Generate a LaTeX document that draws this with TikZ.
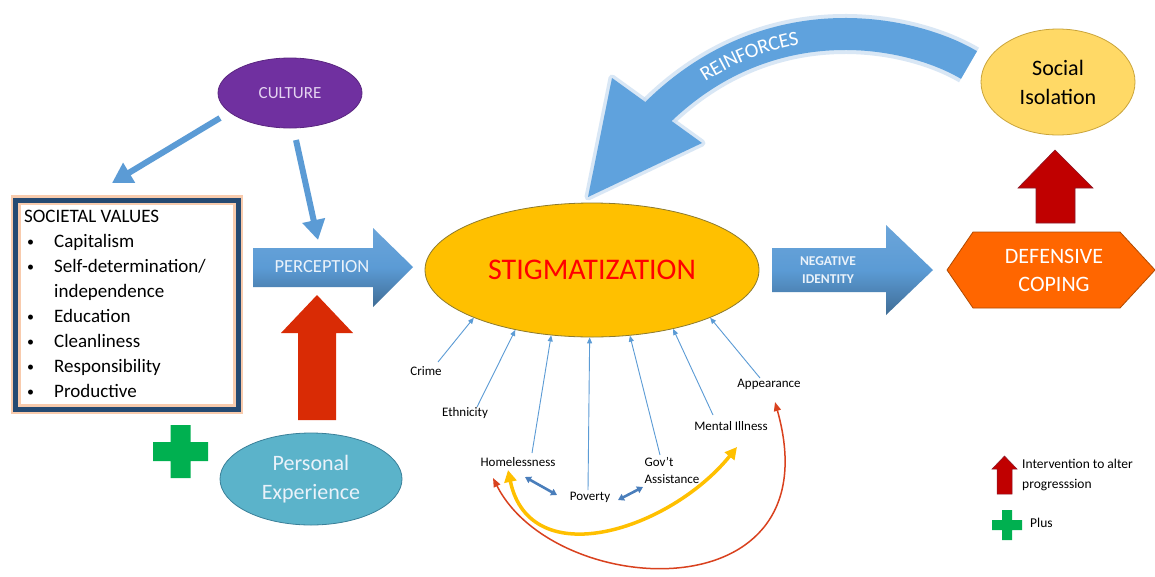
\documentclass[tikz,border=0pt]{standalone}
\usepackage{fontspec}
\setmainfont{Carlito}
\usetikzlibrary{arrows.meta,calc,shapes.geometric,decorations.text}
\definecolor{arrblue}{HTML}{5B9BD5}
\definecolor{bandblue}{HTML}{5FA2DD}
\definecolor{glowblue}{HTML}{C9DDF2}
\definecolor{dblblue}{HTML}{4A7EBB}
\definecolor{stigyellow}{HTML}{FFC000}
\definecolor{stigedge}{HTML}{8C7A2E}
\definecolor{purp}{HTML}{7030A0}
\definecolor{purpedge}{HTML}{5A2680}
\definecolor{lav}{HTML}{E4D4F0}
\definecolor{tealfill}{HTML}{5BB3CA}
\definecolor{tealedge}{HTML}{3A8099}
\definecolor{orangeD}{HTML}{FF6600}
\definecolor{orangeEdge}{HTML}{B04A00}
\definecolor{socyellow}{HTML}{FFD966}
\definecolor{socedge}{HTML}{C9A43A}
\definecolor{redA}{HTML}{D92B05}
\definecolor{redB}{HTML}{C00000}
\definecolor{redBedge}{HTML}{8B1A2A}
\definecolor{plusgreen}{HTML}{00B050}
\definecolor{navyb}{HTML}{254A72}
\definecolor{orglow}{HTML}{F8CBAD}
\definecolor{curvered}{HTML}{D9411E}
\definecolor{lighttxt}{HTML}{EAF2FA}
\newcommand{\smbul}{\hspace{3pt}\raisebox{1.5pt}{\fontsize{14}{25}\selectfont\textbullet}}
\begin{document}
\begin{tikzpicture}[x=1pt,y=-1pt,
  lbl/.style={font=\fontsize{13}{17}\selectfont, inner sep=1pt, text=black},
  thinarr/.style={draw=arrblue, line width=0.9pt, -{Triangle[length=6pt,width=5pt]}},
  bigblue/.style={draw=arrblue, line width=6pt, -{Triangle[length=20pt,width=22pt]}},
  dblarr/.style={draw=dblblue, line width=2.6pt, {Triangle[length=6pt,width=7pt]}-{Triangle[length=6pt,width=7pt]}},
  blockblue/.style={draw=none, top color=arrblue!90!white, bottom color=arrblue!70!black, middle color=arrblue},
  ellnode/.style={ellipse, inner sep=0pt, line width=0.8pt, align=center},
]
\useasboundingbox[fill=white] (0,0) rectangle (1155,576);

% ---------- REINFORCES band arrow ----------
\draw[glowblue, line width=40pt, opacity=0.7] (969,65) .. controls (910,30) and (765,0) .. (650,120);
\draw[glowblue, line width=7pt, line join=round, opacity=0.7, fill=glowblue] (588,197) -- (612,78) -- (702,143) -- cycle;
\draw[bandblue, line width=32pt] (969,65) .. controls (910,30) and (765,0) .. (650,120);
\fill[bandblue] (588,197) -- (612,78) -- (702,143) -- cycle;
\path[decorate, decoration={text along path, text format delimiters={|}{|},
  text={|\fontsize{20.5}{22}\selectfont\color{white}|REINFORCES},
  text align={left indent=68pt}, raise=-6.5pt}]
  (650,120) .. controls (765,0) and (910,30) .. (969,65);

% ---------- CULTURE ----------
\node[ellnode, minimum width=144pt, minimum height=70pt, fill=purp, draw=purpedge, text=lav,
  font=\fontsize{17}{20}\selectfont] (culture) at (290,93) {CULTURE};

% ---------- Societal values ----------
\node[draw=navyb, line width=5pt, minimum width=222.5pt, minimum height=209pt, inner sep=0pt,
  preaction={draw=orglow, line width=10pt}] (vals) at (126.75,304.5) {};
\node[anchor=north west, inner sep=0pt, font=\fontsize{19}{25}\selectfont] (valstxt) at (24,205)
{\begin{tabular}{@{}p{30pt}@{}l@{}}
\multicolumn{2}{@{}l@{}}{SOCIETAL VALUES}\\
\smbul & Capitalism\\
\smbul & Self-determination/\\
 & independence\\
\smbul & Education\\
\smbul & Cleanliness\\
\smbul & Responsibility\\
\smbul & Productive
\end{tabular}};

% ---------- PERCEPTION block arrow ----------
\shade[blockblue] (253,248) -- (373,248) -- (373,228) -- (413,267) -- (373,307) -- (373,287) -- (253,287) -- cycle;
\node[text=lighttxt, font=\fontsize{18.5}{20}\selectfont] (perc) at (322,267) {PERCEPTION};

% culture arrows
\draw[bigblue] ($(culture)+(-70,25)$) -- ($(vals)+(-14.75,-121.5)$);
\draw[bigblue] ($(culture)+(6,47)$) -- ($(perc)+(-4,-27)$);

% ---------- Personal experience ----------
\node[ellnode, minimum width=182pt, minimum height=92pt, fill=tealfill, draw=tealedge, text=lighttxt,
  font=\fontsize{22}{29}\selectfont] (pe) at (311,479) {Personal\\Experience};
\fill[redA] (298,420) -- (298,333) -- (281,333) -- (317,295) -- (353,333) -- (336,333) -- (336,420) -- cycle;

% green plus
\fill[plusgreen] (170.5,425) -- (190.5,425) -- (190.5,442) -- (208,442) -- (208,461) -- (190.5,461)
  -- (190.5,478) -- (170.5,478) -- (170.5,461) -- (153,461) -- (153,442) -- (170.5,442) -- cycle;

% ---------- STIGMATIZATION ----------
\node[ellnode, minimum width=334pt, minimum height=134pt, fill=stigyellow, draw=stigedge, text=red,
  font=\fontsize{30}{34}\selectfont] (stig) at (592,270) {STIGMATIZATION};

% labels
\node[lbl] (crime) at (426,371) {Crime};
\node[lbl] (eth) at (465,413) {Ethnicity};
\node[lbl] (homel) at (518,462) {Homelessness};
\node[lbl] (pov) at (590,497) {Poverty};
\node[lbl, align=left] (gov) at (672,470) {Gov’t\\Assistance};
\node[lbl] (mental) at (731,426) {Mental Illness};
\node[lbl] (app) at (769,384) {Appearance};

\draw[thinarr] ($(crime)+(12,-9)$) -- (stig.202);
\draw[thinarr] ($(eth)+(12,-6)$) -- (stig.218);
\draw[thinarr] ($(homel)+(14,-9)$) -- (stig.238);
\draw[thinarr] ($(pov)+(-2,-7)$) -- (stig.268);
\draw[thinarr] ($(gov)+(-12,-15)$) -- (stig.300.5);
\draw[thinarr] ($(mental)+(-18,-11)$) -- (stig.324);
\draw[thinarr] ($(app)+(-9,-6)$) -- (stig.338);

\draw[dblarr] ($(homel)+(7,15)$) -- ($(pov)+(-33,-2)$);
\draw[dblarr] ($(pov)+(28,3)$) -- ($(pov)+(53,-10)$);

\draw[stigyellow, line width=3.5pt, {Triangle[length=12pt,width=12pt]}-{Triangle[length=12pt,width=12pt]}]
  ($(homel)+(-10,8)$) .. controls (530,575) and (670,530) .. ($(mental)+(6,21)$);
\draw[curvered, line width=1.5pt, {Triangle[length=9pt,width=7pt]}-{Triangle[length=9pt,width=7pt]}]
  ($(homel)+(-25,16)$) .. controls (555,600) and (835,615) .. ($(app)+(6,18)$);

% ---------- NEGATIVE IDENTITY ----------
\shade[blockblue] (772,248) -- (886,248) -- (886,225) -- (933,270) -- (886,315) -- (886,292) -- (772,292) -- cycle;
\node[text=lighttxt, align=center, font=\bfseries\fontsize{13.5}{18}\selectfont] (negid) at (828,270) {NEGATIVE\\IDENTITY};

% ---------- DEFENSIVE COPING ----------
\filldraw[fill=orangeD, draw=orangeEdge, line width=0.8pt] (947,270) -- (973,232) -- (1120,232) -- (1155,270) -- (1120,308) -- (973,308) -- cycle;
\node[text=white, align=center, font=\fontsize{22}{28}\selectfont] (defc) at (1054,270) {DEFENSIVE\\COPING};
\filldraw[fill=redB, draw=redBedge, line width=0.6pt] (1036,223) -- (1036,188) -- (1018,188) -- (1055,150) -- (1093,188) -- (1075,188) -- (1075,223) -- cycle;

% ---------- Social isolation ----------
\node[ellnode, minimum width=154pt, minimum height=106pt, fill=socyellow, draw=socedge, text=black,
  font=\fontsize{22}{29}\selectfont] (soc) at (1058,82) {Social\\Isolation};

% ---------- Legend ----------
\filldraw[fill=redB, draw=redBedge, line width=0.5pt] (997,494) -- (997,469) -- (992,469) -- (1004.5,456) -- (1017,469) -- (1012,469) -- (1012,494) -- cycle;
\node[anchor=west, align=left, inner sep=0pt, font=\fontsize{13.5}{20}\selectfont] (legint) at (1022,475) {Intervention to alter\\progresssion};
\fill[plusgreen] (1002,510) -- (1012,510) -- (1012,520) -- (1022,520) -- (1022,530) -- (1012,530)
  -- (1012,540) -- (1002,540) -- (1002,530) -- (992,530) -- (992,520) -- (1002,520) -- cycle;
\node[anchor=west, inner sep=0pt, font=\fontsize{13.5}{16}\selectfont] (legplus) at (1030,523) {Plus};
\end{tikzpicture}
\end{document}
